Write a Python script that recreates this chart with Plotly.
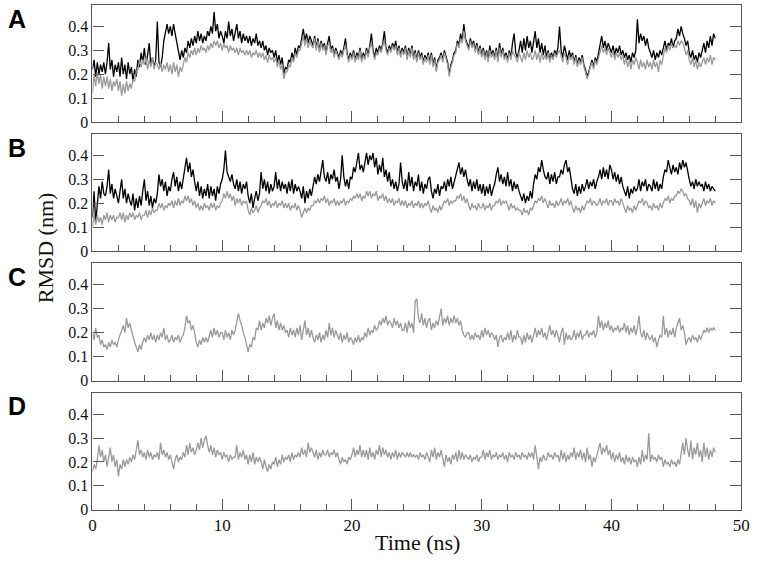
import plotly.graph_objects as go

# sampling interval of the traces (ns); one row below = 1 ns
STEP = 0.125

a_black = [
    0.22, 0.26, 0.19, 0.25, 0.20, 0.24, 0.21, 0.25,
    0.20, 0.25, 0.33, 0.22, 0.26, 0.19, 0.24, 0.21,
    0.25, 0.19, 0.27, 0.20, 0.24, 0.18, 0.25, 0.20,
    0.23, 0.17, 0.22, 0.19, 0.26, 0.23, 0.29, 0.25,
    0.31, 0.24, 0.28, 0.33, 0.24, 0.27, 0.23, 0.26,
    0.42, 0.25, 0.23, 0.27, 0.34, 0.38, 0.41, 0.37,
    0.40, 0.36, 0.41, 0.37, 0.33, 0.29, 0.26, 0.30,
    0.27, 0.31, 0.29, 0.34, 0.31, 0.35, 0.32, 0.36,
    0.33, 0.38, 0.34, 0.37, 0.33, 0.36, 0.34, 0.38,
    0.36, 0.40, 0.37, 0.46, 0.38, 0.41, 0.35, 0.38,
    0.36, 0.33, 0.38, 0.35, 0.42, 0.36, 0.39, 0.34,
    0.37, 0.41, 0.35, 0.38, 0.33, 0.37, 0.34, 0.36,
    0.33, 0.36, 0.32, 0.35, 0.33, 0.37, 0.32, 0.34,
    0.31, 0.34, 0.30, 0.32, 0.28, 0.31, 0.29, 0.30,
    0.27, 0.30, 0.25, 0.28, 0.24, 0.27, 0.20, 0.23,
    0.22, 0.26, 0.25, 0.29, 0.26, 0.31, 0.28, 0.32,
    0.31, 0.35, 0.39, 0.34, 0.37, 0.33, 0.36, 0.34,
    0.32, 0.36, 0.31, 0.35, 0.30, 0.34, 0.31, 0.33,
    0.29, 0.33, 0.36, 0.30, 0.32, 0.28, 0.31, 0.29,
    0.27, 0.30, 0.28, 0.31, 0.35, 0.29, 0.26, 0.29,
    0.27, 0.30, 0.26, 0.29, 0.27, 0.31, 0.26, 0.29,
    0.27, 0.31, 0.28, 0.32, 0.37, 0.30, 0.27, 0.31,
    0.29, 0.32, 0.30, 0.33, 0.38, 0.31, 0.29, 0.32,
    0.30, 0.33, 0.31, 0.34, 0.29, 0.32, 0.28, 0.31,
    0.29, 0.32, 0.27, 0.31, 0.28, 0.32, 0.27, 0.30,
    0.26, 0.30, 0.27, 0.29, 0.25, 0.28, 0.26, 0.29,
    0.25, 0.29, 0.24, 0.27, 0.22, 0.26, 0.27, 0.29,
    0.26, 0.30, 0.27, 0.25, 0.20, 0.24, 0.26, 0.29,
    0.30, 0.34, 0.32, 0.37, 0.34, 0.41, 0.35, 0.33,
    0.31, 0.35, 0.32, 0.34, 0.30, 0.33, 0.29, 0.32,
    0.28, 0.31, 0.27, 0.30, 0.26, 0.32, 0.28, 0.30,
    0.27, 0.31, 0.26, 0.33, 0.28, 0.31, 0.27, 0.29,
    0.26, 0.30, 0.27, 0.33, 0.37, 0.29, 0.27, 0.30,
    0.34, 0.29, 0.35, 0.30, 0.36, 0.31, 0.34, 0.29,
    0.33, 0.38, 0.31, 0.35, 0.29, 0.33, 0.28, 0.32,
    0.27, 0.30, 0.26, 0.29, 0.27, 0.30, 0.28, 0.31,
    0.40, 0.30, 0.27, 0.32, 0.29, 0.26, 0.30, 0.27,
    0.29, 0.25, 0.28, 0.24, 0.27, 0.25, 0.28, 0.24,
    0.22, 0.19, 0.21, 0.24, 0.26, 0.23, 0.27, 0.25,
    0.29, 0.32, 0.36, 0.31, 0.34, 0.30, 0.33, 0.31,
    0.29, 0.32, 0.28, 0.31, 0.29, 0.32, 0.28, 0.30,
    0.27, 0.29, 0.26, 0.28, 0.25, 0.29, 0.27, 0.30,
    0.43, 0.33, 0.37, 0.34, 0.36, 0.32, 0.35, 0.31,
    0.29, 0.27, 0.30, 0.26, 0.29, 0.27, 0.30, 0.28,
    0.31, 0.34, 0.30, 0.33, 0.32, 0.35, 0.31, 0.34,
    0.35, 0.39, 0.36, 0.40, 0.37, 0.35, 0.32, 0.34,
    0.29, 0.27, 0.30, 0.26, 0.28, 0.25, 0.29, 0.27,
    0.30, 0.33, 0.29, 0.34, 0.31, 0.36, 0.32, 0.37,
    0.35,
]
a_gray = [
    0.12, 0.20, 0.15, 0.21, 0.16, 0.20, 0.14, 0.19,
    0.15, 0.19, 0.14, 0.18, 0.13, 0.17, 0.15, 0.18,
    0.13, 0.17, 0.11, 0.16, 0.12, 0.17, 0.13, 0.16,
    0.14, 0.18, 0.17, 0.21, 0.22, 0.26, 0.23, 0.26,
    0.24, 0.27, 0.22, 0.26, 0.23, 0.27, 0.22, 0.25,
    0.24, 0.22, 0.25, 0.21, 0.24, 0.22, 0.25, 0.21,
    0.24, 0.20, 0.25, 0.21, 0.24, 0.19, 0.23, 0.21,
    0.24, 0.27, 0.25, 0.29, 0.27, 0.30, 0.28, 0.31,
    0.28, 0.31, 0.29, 0.32, 0.30, 0.31, 0.29, 0.32,
    0.30, 0.33, 0.31, 0.34, 0.32, 0.34, 0.31, 0.33,
    0.30, 0.33, 0.31, 0.32, 0.29, 0.32, 0.30, 0.31,
    0.29, 0.31, 0.28, 0.31, 0.29, 0.30, 0.28, 0.30,
    0.28, 0.30, 0.27, 0.29, 0.28, 0.30, 0.27, 0.29,
    0.27, 0.29, 0.26, 0.28, 0.25, 0.28, 0.26, 0.27,
    0.25, 0.27, 0.23, 0.26, 0.22, 0.24, 0.18, 0.21,
    0.21, 0.24, 0.23, 0.27, 0.25, 0.29, 0.27, 0.30,
    0.30, 0.33, 0.36, 0.32, 0.35, 0.31, 0.34, 0.32,
    0.31, 0.35, 0.30, 0.34, 0.29, 0.33, 0.30, 0.32,
    0.28, 0.32, 0.33, 0.29, 0.31, 0.27, 0.30, 0.28,
    0.26, 0.29, 0.27, 0.30, 0.32, 0.28, 0.25, 0.28,
    0.26, 0.29, 0.25, 0.28, 0.26, 0.30, 0.25, 0.28,
    0.26, 0.30, 0.27, 0.31, 0.33, 0.29, 0.26, 0.29,
    0.28, 0.31, 0.29, 0.32, 0.34, 0.30, 0.28, 0.31,
    0.29, 0.32, 0.30, 0.32, 0.28, 0.31, 0.27, 0.30,
    0.28, 0.31, 0.26, 0.30, 0.27, 0.31, 0.26, 0.29,
    0.25, 0.29, 0.26, 0.28, 0.24, 0.27, 0.25, 0.28,
    0.24, 0.28, 0.23, 0.26, 0.21, 0.25, 0.26, 0.28,
    0.25, 0.29, 0.26, 0.24, 0.19, 0.23, 0.25, 0.28,
    0.29, 0.33, 0.31, 0.35, 0.33, 0.38, 0.34, 0.32,
    0.30, 0.34, 0.31, 0.33, 0.29, 0.32, 0.28, 0.31,
    0.27, 0.30, 0.26, 0.29, 0.25, 0.30, 0.27, 0.29,
    0.26, 0.30, 0.25, 0.31, 0.27, 0.30, 0.26, 0.28,
    0.25, 0.29, 0.26, 0.30, 0.28, 0.27, 0.25, 0.29,
    0.27, 0.25, 0.29, 0.26, 0.30, 0.27, 0.29, 0.26,
    0.27, 0.30, 0.26, 0.29, 0.25, 0.29, 0.26, 0.28,
    0.26, 0.29, 0.25, 0.28, 0.26, 0.29, 0.27, 0.29,
    0.30, 0.27, 0.25, 0.29, 0.27, 0.24, 0.28, 0.26,
    0.28, 0.24, 0.27, 0.23, 0.26, 0.24, 0.27, 0.23,
    0.21, 0.18, 0.20, 0.23, 0.25, 0.22, 0.26, 0.24,
    0.27, 0.30, 0.32, 0.29, 0.31, 0.28, 0.31, 0.29,
    0.27, 0.30, 0.26, 0.29, 0.27, 0.29, 0.26, 0.28,
    0.24, 0.27, 0.23, 0.26, 0.22, 0.26, 0.24, 0.27,
    0.25, 0.22, 0.26, 0.23, 0.25, 0.22, 0.26, 0.23,
    0.25, 0.22, 0.26, 0.23, 0.25, 0.21, 0.26, 0.24,
    0.28, 0.31, 0.29, 0.32, 0.30, 0.33, 0.31, 0.32,
    0.31, 0.34, 0.32, 0.34, 0.33, 0.31, 0.28, 0.30,
    0.26, 0.24, 0.27, 0.23, 0.26, 0.22, 0.25, 0.23,
    0.25, 0.27, 0.24, 0.27, 0.25, 0.28, 0.24, 0.27,
    0.26,
]
b_black = [
    0.14, 0.25, 0.12, 0.20, 0.27, 0.22, 0.29, 0.24,
    0.23, 0.27, 0.34, 0.24, 0.28, 0.22, 0.26, 0.23,
    0.20, 0.25, 0.30, 0.22, 0.26, 0.20, 0.24, 0.21,
    0.19, 0.24, 0.17, 0.22, 0.18, 0.23, 0.19, 0.25,
    0.30, 0.21, 0.25, 0.19, 0.23, 0.18, 0.22, 0.20,
    0.24, 0.32, 0.27, 0.30, 0.25, 0.29, 0.23, 0.27,
    0.25, 0.30, 0.33, 0.27, 0.31, 0.25, 0.29, 0.26,
    0.30, 0.35, 0.39, 0.33, 0.37, 0.31, 0.34, 0.29,
    0.25, 0.29, 0.23, 0.27, 0.22, 0.26, 0.23, 0.28,
    0.22, 0.27, 0.23, 0.26, 0.21, 0.27, 0.24, 0.28,
    0.30, 0.34, 0.42, 0.33, 0.31, 0.29, 0.32, 0.28,
    0.26, 0.30, 0.25, 0.29, 0.24, 0.28, 0.26, 0.29,
    0.23, 0.20, 0.24, 0.18, 0.22, 0.25, 0.21, 0.24,
    0.33, 0.26, 0.30, 0.25, 0.29, 0.24, 0.28, 0.25,
    0.27, 0.33, 0.26, 0.30, 0.25, 0.29, 0.26, 0.28,
    0.24, 0.29, 0.25, 0.30, 0.24, 0.28, 0.25, 0.27,
    0.25, 0.22, 0.27, 0.20, 0.25, 0.22, 0.26, 0.23,
    0.27, 0.31, 0.28, 0.32, 0.29, 0.33, 0.38, 0.31,
    0.29, 0.33, 0.28, 0.32, 0.30, 0.34, 0.29, 0.31,
    0.26, 0.30, 0.40, 0.31, 0.27, 0.30, 0.26, 0.31,
    0.30, 0.35, 0.33, 0.37, 0.41, 0.34, 0.36, 0.33,
    0.37, 0.41, 0.36, 0.40, 0.38, 0.41, 0.35, 0.39,
    0.32, 0.36, 0.33, 0.39, 0.31, 0.34, 0.29, 0.33,
    0.27, 0.30, 0.26, 0.29, 0.25, 0.28, 0.37, 0.29,
    0.26, 0.30, 0.25, 0.33, 0.27, 0.31, 0.25, 0.29,
    0.27, 0.32, 0.25, 0.29, 0.24, 0.28, 0.26, 0.30,
    0.31, 0.25, 0.22, 0.26, 0.24, 0.28, 0.23, 0.27,
    0.26, 0.29, 0.25, 0.30, 0.27, 0.31, 0.26, 0.29,
    0.31, 0.35, 0.37, 0.32, 0.35, 0.31, 0.34, 0.30,
    0.27, 0.30, 0.25, 0.29, 0.26, 0.30, 0.25, 0.28,
    0.24, 0.28, 0.23, 0.27, 0.24, 0.28, 0.23, 0.26,
    0.28, 0.32, 0.35, 0.29, 0.32, 0.28, 0.31, 0.27,
    0.33, 0.27, 0.30, 0.25, 0.29, 0.26, 0.28, 0.25,
    0.23, 0.21, 0.24, 0.20, 0.23, 0.21, 0.25, 0.22,
    0.28, 0.32, 0.30, 0.35, 0.33, 0.38, 0.34, 0.31,
    0.30, 0.33, 0.28, 0.32, 0.29, 0.33, 0.28, 0.31,
    0.31, 0.34, 0.32, 0.36, 0.38, 0.33, 0.35, 0.30,
    0.26, 0.24, 0.28, 0.23, 0.27, 0.24, 0.28, 0.25,
    0.27, 0.30, 0.26, 0.29, 0.27, 0.30, 0.26, 0.29,
    0.31, 0.34, 0.30, 0.35, 0.31, 0.34, 0.30, 0.36,
    0.34, 0.30, 0.33, 0.29, 0.32, 0.28, 0.31, 0.27,
    0.25, 0.23, 0.27, 0.22, 0.26, 0.24, 0.27, 0.25,
    0.26, 0.30, 0.25, 0.29, 0.27, 0.30, 0.25, 0.28,
    0.27, 0.25, 0.30, 0.26, 0.29, 0.25, 0.28, 0.26,
    0.31, 0.34, 0.33, 0.38, 0.35, 0.32, 0.36, 0.33,
    0.35, 0.32, 0.37, 0.34, 0.38, 0.35, 0.37, 0.33,
    0.30, 0.27, 0.29, 0.26, 0.30, 0.27, 0.29, 0.27,
    0.28, 0.25, 0.29, 0.26, 0.28, 0.25, 0.27, 0.26,
    0.25,
]
b_gray = [
    0.10, 0.15, 0.11, 0.15, 0.12, 0.14, 0.11, 0.15,
    0.13, 0.16, 0.12, 0.15, 0.13, 0.15, 0.12, 0.14,
    0.14, 0.16, 0.13, 0.16, 0.12, 0.15, 0.13, 0.16,
    0.14, 0.16, 0.13, 0.15, 0.14, 0.16, 0.13, 0.15,
    0.15, 0.17, 0.14, 0.17, 0.15, 0.18, 0.16, 0.17,
    0.17, 0.20, 0.18, 0.20, 0.17, 0.19, 0.18, 0.20,
    0.19, 0.21, 0.18, 0.21, 0.19, 0.22, 0.19, 0.21,
    0.20, 0.23, 0.21, 0.23, 0.20, 0.22, 0.19, 0.21,
    0.18, 0.20, 0.17, 0.19, 0.17, 0.20, 0.18, 0.19,
    0.17, 0.20, 0.18, 0.20, 0.17, 0.19, 0.18, 0.20,
    0.21, 0.24, 0.22, 0.25, 0.22, 0.24, 0.21, 0.23,
    0.19, 0.22, 0.20, 0.22, 0.19, 0.21, 0.20, 0.21,
    0.17, 0.15, 0.18, 0.16, 0.17, 0.19, 0.16, 0.18,
    0.19, 0.21, 0.20, 0.22, 0.19, 0.21, 0.18, 0.20,
    0.19, 0.21, 0.18, 0.20, 0.19, 0.21, 0.18, 0.20,
    0.18, 0.20, 0.17, 0.19, 0.18, 0.20, 0.17, 0.19,
    0.17, 0.14, 0.16, 0.18, 0.16, 0.18, 0.17, 0.19,
    0.19, 0.21, 0.20, 0.22, 0.20, 0.22, 0.21, 0.23,
    0.20, 0.22, 0.19, 0.21, 0.20, 0.22, 0.19, 0.21,
    0.19, 0.21, 0.20, 0.22, 0.19, 0.21, 0.20, 0.22,
    0.21, 0.23, 0.22, 0.24, 0.22, 0.24, 0.21, 0.23,
    0.22, 0.25, 0.23, 0.25, 0.22, 0.24, 0.23, 0.25,
    0.21, 0.23, 0.22, 0.24, 0.21, 0.23, 0.20, 0.22,
    0.20, 0.22, 0.19, 0.21, 0.20, 0.22, 0.19, 0.21,
    0.19, 0.21, 0.18, 0.20, 0.19, 0.21, 0.18, 0.20,
    0.19, 0.21, 0.18, 0.20, 0.18, 0.20, 0.19, 0.21,
    0.18, 0.16, 0.19, 0.17, 0.18, 0.16, 0.19, 0.17,
    0.19, 0.21, 0.20, 0.22, 0.19, 0.21, 0.20, 0.21,
    0.21, 0.23, 0.22, 0.24, 0.21, 0.23, 0.20, 0.22,
    0.19, 0.17, 0.20, 0.18, 0.19, 0.17, 0.20, 0.18,
    0.18, 0.20, 0.17, 0.19, 0.18, 0.20, 0.17, 0.19,
    0.19, 0.21, 0.20, 0.22, 0.19, 0.21, 0.20, 0.21,
    0.19, 0.17, 0.20, 0.18, 0.19, 0.17, 0.18, 0.17,
    0.17, 0.15, 0.18, 0.16, 0.17, 0.15, 0.18, 0.17,
    0.19, 0.21, 0.20, 0.22, 0.21, 0.23, 0.20, 0.22,
    0.20, 0.18, 0.21, 0.19, 0.20, 0.18, 0.21, 0.19,
    0.20, 0.22, 0.19, 0.21, 0.20, 0.22, 0.19, 0.21,
    0.18, 0.16, 0.19, 0.17, 0.18, 0.16, 0.19, 0.17,
    0.19, 0.21, 0.20, 0.22, 0.19, 0.21, 0.20, 0.19,
    0.20, 0.22, 0.19, 0.21, 0.20, 0.22, 0.19, 0.21,
    0.21, 0.19, 0.22, 0.20, 0.21, 0.19, 0.22, 0.20,
    0.18, 0.16, 0.19, 0.17, 0.18, 0.16, 0.19, 0.17,
    0.19, 0.21, 0.20, 0.22, 0.19, 0.21, 0.20, 0.18,
    0.19, 0.17, 0.20, 0.18, 0.19, 0.17, 0.20, 0.18,
    0.20, 0.22, 0.21, 0.23, 0.20, 0.22, 0.21, 0.23,
    0.23, 0.25, 0.24, 0.26, 0.25, 0.23, 0.24, 0.22,
    0.21, 0.19, 0.22, 0.18, 0.21, 0.16, 0.20, 0.18,
    0.20, 0.22, 0.19, 0.21, 0.20, 0.22, 0.19, 0.21,
    0.20,
]
c_gray = [
    0.20, 0.17, 0.22, 0.18, 0.19, 0.15, 0.17, 0.14,
    0.15, 0.13, 0.16, 0.14, 0.17, 0.15, 0.16, 0.14,
    0.17, 0.19, 0.21, 0.23, 0.20, 0.26, 0.22, 0.24,
    0.21, 0.18, 0.16, 0.14, 0.12, 0.15, 0.13, 0.16,
    0.18, 0.16, 0.19, 0.17, 0.20, 0.17, 0.19, 0.16,
    0.19, 0.17, 0.20, 0.18, 0.22, 0.17, 0.19, 0.16,
    0.17, 0.19, 0.16, 0.18, 0.17, 0.19, 0.16, 0.18,
    0.19, 0.22, 0.27, 0.24, 0.25, 0.21, 0.23, 0.20,
    0.16, 0.14, 0.17, 0.15, 0.18, 0.16, 0.18, 0.16,
    0.19, 0.21, 0.18, 0.22, 0.19, 0.21, 0.18, 0.20,
    0.20, 0.17, 0.21, 0.18, 0.20, 0.17, 0.21, 0.19,
    0.21, 0.24, 0.28, 0.25, 0.23, 0.20, 0.18, 0.15,
    0.12, 0.15, 0.14, 0.18, 0.17, 0.22, 0.21, 0.25,
    0.21, 0.24, 0.22, 0.26, 0.24, 0.27, 0.23, 0.26,
    0.28, 0.22, 0.25, 0.21, 0.24, 0.21, 0.23, 0.20,
    0.21, 0.18, 0.22, 0.19, 0.21, 0.18, 0.22, 0.19,
    0.23, 0.17, 0.21, 0.25, 0.19, 0.22, 0.18, 0.21,
    0.18, 0.16, 0.19, 0.17, 0.20, 0.16, 0.19, 0.17,
    0.21, 0.18, 0.24, 0.19, 0.22, 0.18, 0.21, 0.19,
    0.17, 0.20, 0.16, 0.19, 0.17, 0.20, 0.16, 0.18,
    0.17, 0.15, 0.18, 0.16, 0.19, 0.16, 0.18, 0.17,
    0.20, 0.18, 0.22, 0.19, 0.21, 0.20, 0.23, 0.21,
    0.22, 0.25, 0.23, 0.26, 0.24, 0.27, 0.23, 0.25,
    0.24, 0.22, 0.26, 0.23, 0.25, 0.22, 0.24, 0.21,
    0.21, 0.24, 0.20, 0.25, 0.22, 0.24, 0.20, 0.33,
    0.34, 0.26, 0.24, 0.28, 0.23, 0.26, 0.22, 0.25,
    0.26, 0.21, 0.24, 0.22, 0.25, 0.23, 0.27, 0.30,
    0.23, 0.26, 0.24, 0.27, 0.23, 0.26, 0.24, 0.27,
    0.24, 0.26, 0.23, 0.25, 0.21, 0.19, 0.18, 0.20,
    0.20, 0.17, 0.19, 0.17, 0.20, 0.18, 0.19, 0.17,
    0.21, 0.18, 0.22, 0.19, 0.21, 0.18, 0.20, 0.19,
    0.17, 0.19, 0.14, 0.18, 0.19, 0.16, 0.18, 0.17,
    0.20, 0.17, 0.21, 0.16, 0.19, 0.17, 0.21, 0.18,
    0.18, 0.15, 0.19, 0.16, 0.20, 0.17, 0.19, 0.16,
    0.19, 0.22, 0.18, 0.21, 0.19, 0.22, 0.18, 0.20,
    0.17, 0.20, 0.23, 0.19, 0.21, 0.18, 0.21, 0.19,
    0.16, 0.20, 0.22, 0.15, 0.20, 0.17, 0.19, 0.17,
    0.18, 0.21, 0.17, 0.20, 0.18, 0.21, 0.17, 0.19,
    0.19, 0.21, 0.18, 0.20, 0.19, 0.21, 0.18, 0.20,
    0.27, 0.22, 0.25, 0.21, 0.24, 0.22, 0.25, 0.21,
    0.23, 0.20, 0.22, 0.21, 0.23, 0.20, 0.22, 0.21,
    0.24, 0.20, 0.23, 0.19, 0.22, 0.20, 0.23, 0.19,
    0.22, 0.27, 0.20, 0.18, 0.21, 0.17, 0.20, 0.18,
    0.17, 0.19, 0.16, 0.18, 0.14, 0.17, 0.19, 0.18,
    0.27, 0.19, 0.22, 0.18, 0.21, 0.19, 0.22, 0.18,
    0.22, 0.24, 0.26, 0.21, 0.23, 0.20, 0.15, 0.17,
    0.18, 0.16, 0.19, 0.17, 0.18, 0.16, 0.19, 0.17,
    0.19, 0.21, 0.20, 0.22, 0.20, 0.22, 0.21, 0.22,
    0.21,
]
d_gray = [
    0.16, 0.19, 0.17, 0.21, 0.27, 0.22, 0.25, 0.20,
    0.23, 0.18, 0.22, 0.26, 0.20, 0.23, 0.18, 0.21,
    0.14, 0.19, 0.17, 0.21, 0.18, 0.21, 0.19, 0.22,
    0.20, 0.23, 0.21, 0.25, 0.29, 0.23, 0.25, 0.22,
    0.24, 0.21, 0.25, 0.22, 0.24, 0.21, 0.23, 0.22,
    0.24, 0.21, 0.28, 0.23, 0.25, 0.22, 0.24, 0.21,
    0.23, 0.20, 0.17, 0.21, 0.23, 0.20, 0.22, 0.21,
    0.24, 0.22, 0.27, 0.23, 0.28, 0.24, 0.26, 0.23,
    0.25, 0.28, 0.25, 0.30, 0.26, 0.29, 0.31, 0.27,
    0.24, 0.27, 0.23, 0.26, 0.22, 0.25, 0.23, 0.24,
    0.21, 0.24, 0.22, 0.23, 0.20, 0.23, 0.21, 0.22,
    0.22, 0.27, 0.21, 0.24, 0.22, 0.25, 0.21, 0.23,
    0.19, 0.23, 0.20, 0.24, 0.19, 0.22, 0.20, 0.22,
    0.20, 0.17, 0.21, 0.18, 0.16, 0.19, 0.17, 0.20,
    0.19, 0.22, 0.18, 0.21, 0.19, 0.23, 0.20, 0.22,
    0.21, 0.23, 0.20, 0.24, 0.21, 0.23, 0.22, 0.24,
    0.22, 0.26, 0.23, 0.25, 0.22, 0.28, 0.24, 0.26,
    0.24, 0.22, 0.25, 0.21, 0.24, 0.22, 0.25, 0.23,
    0.23, 0.25, 0.22, 0.24, 0.23, 0.25, 0.22, 0.24,
    0.21, 0.19, 0.22, 0.20, 0.21, 0.19, 0.22, 0.21,
    0.23, 0.26, 0.22, 0.25, 0.23, 0.27, 0.22, 0.25,
    0.22, 0.25, 0.21, 0.26, 0.22, 0.24, 0.21, 0.25,
    0.23, 0.27, 0.22, 0.26, 0.23, 0.25, 0.22, 0.24,
    0.21, 0.24, 0.22, 0.25, 0.21, 0.24, 0.22, 0.24,
    0.23, 0.22, 0.24, 0.22, 0.24, 0.22, 0.23, 0.22,
    0.23, 0.21, 0.24, 0.22, 0.23, 0.21, 0.24, 0.22,
    0.20, 0.25, 0.22, 0.26, 0.21, 0.24, 0.22, 0.25,
    0.21, 0.18, 0.23, 0.20, 0.22, 0.19, 0.23, 0.21,
    0.24, 0.20, 0.25, 0.21, 0.24, 0.21, 0.23, 0.22,
    0.21, 0.23, 0.20, 0.22, 0.21, 0.23, 0.20, 0.22,
    0.22, 0.25, 0.21, 0.24, 0.22, 0.25, 0.21, 0.23,
    0.22, 0.24, 0.21, 0.23, 0.22, 0.24, 0.21, 0.23,
    0.20, 0.24, 0.22, 0.23, 0.21, 0.24, 0.22, 0.23,
    0.21, 0.24, 0.22, 0.23, 0.21, 0.24, 0.22, 0.24,
    0.21, 0.27, 0.22, 0.17, 0.22, 0.20, 0.23, 0.21,
    0.21, 0.24, 0.22, 0.23, 0.21, 0.24, 0.22, 0.23,
    0.20, 0.25, 0.21, 0.24, 0.20, 0.23, 0.21, 0.24,
    0.22, 0.26, 0.21, 0.24, 0.22, 0.25, 0.21, 0.24,
    0.20, 0.26, 0.21, 0.23, 0.18, 0.22, 0.20, 0.23,
    0.25, 0.28, 0.23, 0.26, 0.24, 0.27, 0.23, 0.25,
    0.21, 0.24, 0.20, 0.23, 0.21, 0.24, 0.20, 0.22,
    0.19, 0.23, 0.20, 0.22, 0.19, 0.22, 0.20, 0.21,
    0.18, 0.22, 0.19, 0.25, 0.20, 0.23, 0.21, 0.32,
    0.20, 0.23, 0.21, 0.22, 0.20, 0.23, 0.21, 0.22,
    0.18, 0.21, 0.19, 0.20, 0.18, 0.21, 0.19, 0.20,
    0.18, 0.21, 0.19, 0.24, 0.28, 0.23, 0.30, 0.25,
    0.22, 0.29, 0.21, 0.26, 0.23, 0.28, 0.22, 0.25,
    0.20, 0.28, 0.22, 0.26, 0.21, 0.25, 0.22, 0.26,
    0.24,
]

panel_labels = ["A", "B", "C", "D"]
y_ticks = [0, 0.1, 0.2, 0.3, 0.4]
y_tick_text = ["0", "0.1", "0.2", "0.3", "0.4"]
x_ticks = [0, 10, 20, 30, 40, 50]

time_ns = [i * STEP for i in range(len(a_black))]

BLACK = "#000000"
GRAY = "#9a9a9a"
FRAME = "#555555"
SERIF = "Liberation Serif, Times New Roman, serif"

panels = [
    [(a_black, BLACK), (a_gray, GRAY)],
    [(b_black, BLACK), (b_gray, GRAY)],
    [(c_gray, GRAY)],
    [(d_gray, GRAY)],
]

# pixel rows of each panel (top, bottom) in the 565 px tall figure
H, W = 565, 760
rows_px = [(5, 124), (136, 255), (267, 387), (399, 518)]
x_dom = [90 / W, 750 / W]

fig = go.Figure()
layout = {}
for i, series in enumerate(panels):
    n = i + 1
    xa = "x" if n == 1 else f"x{n}"
    ya = "y" if n == 1 else f"y{n}"
    for vals, col in series:
        fig.add_trace(go.Scatter(
            x=time_ns, y=vals, mode="lines", xaxis=xa, yaxis=ya,
            line=dict(color=col, width=1.3), showlegend=False,
            hoverinfo="skip",
        ))
    top, bot = rows_px[i]
    last = n == len(panels)
    layout["xaxis" if n == 1 else f"xaxis{n}"] = dict(
        domain=x_dom, anchor=ya, range=[0, 50],
        showline=True, linecolor=FRAME, linewidth=1.2, mirror=True,
        showgrid=False, zeroline=False,
        tickvals=x_ticks, ticks="inside", ticklen=11, tickcolor=FRAME, tickwidth=1,
        minor=dict(dtick=2, ticks="inside", ticklen=6, tickcolor=FRAME, tickwidth=1,
                   showgrid=False),
        showticklabels=last,
        tickfont=dict(family=SERIF, size=17, color="#111"),
    )
    layout["yaxis" if n == 1 else f"yaxis{n}"] = dict(
        domain=[1 - bot / H, 1 - top / H], anchor=xa, range=[0, 0.49],
        showline=True, linecolor=FRAME, linewidth=1.2, mirror="ticks",
        showgrid=False, zeroline=False,
        tickvals=y_ticks, ticktext=y_tick_text,
        ticks="inside", ticklen=11, tickcolor=FRAME, tickwidth=1,
        tickfont=dict(family=SERIF, size=16, color="#111"),
    )

annotations = []
for i, lab in enumerate(panel_labels):
    top, bot = rows_px[i]
    annotations.append(dict(
        text=lab, xref="paper", yref="paper", x=2 / W, y=1 - (top + 14) / H,
        xanchor="left", yanchor="middle", showarrow=False,
        font=dict(family="Liberation Sans, Arial, sans-serif", size=25,
                  color="#000", weight="bold"),
    ))
annotations.append(dict(
    text="RMSD (nm)", xref="paper", yref="paper", x=43 / W, y=1 - 252 / H,
    xanchor="center", yanchor="middle", textangle=-90, showarrow=False,
    font=dict(family=SERIF, size=22, color="#111"),
))
annotations.append(dict(
    text="Time (ns)", xref="paper", yref="paper", x=421 / W, y=1 - 551 / H,
    xanchor="center", yanchor="middle", showarrow=False,
    font=dict(family=SERIF, size=22, color="#111"),
))

fig.update_layout(
    width=W, height=H,
    margin=dict(l=0, r=0, t=0, b=0),
    paper_bgcolor="white", plot_bgcolor="white",
    annotations=annotations,
    **layout,
)

# drop the browser's default 8px page margin so the figure sits at (0, 0)
fig.write_html("out.html", config={"displayModeBar": False},
               post_script="document.body.style.margin='0';")
